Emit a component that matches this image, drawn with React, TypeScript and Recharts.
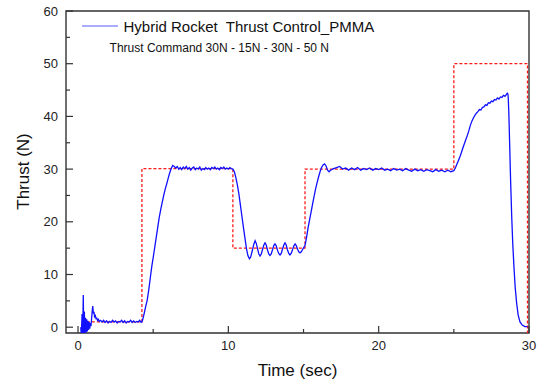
import { LineChart, Line, XAxis, YAxis, ReferenceArea } from 'recharts';

type Pt = { t: number; v: number };

// thrust command steps (N)
const commandSteps: [number, number][] = [
  [0.25, 1.0], [4.25, 1.0], [4.25, 30.1], [10.3, 30.1], [10.3, 15.0],
  [15.1, 15.0], [15.1, 30.0], [25.0, 30.0], [25.0, 50.0], [29.9, 50.0], [29.9, -1.1]
];

const ignition: [number, number][] = [
  [0.18, 0.0], [0.22, -1.5], [0.27, 2.5], [0.31, -1.5], [0.35, 6.1], [0.38, -1.5],
  [0.42, 3.0], [0.46, -1.2], [0.5, 1.8], [0.54, -1.0], [0.58, 1.5], [0.62, -0.8],
  [0.66, 1.2], [0.7, -0.5], [0.74, 1.0], [0.78, -0.3], [0.82, 0.8], [0.86, 0.2],
  [0.9, 1.5], [0.95, 3.2], [0.98, 4.0], [1.02, 2.6], [1.06, 2.9], [1.1, 2.0],
  [1.15, 2.2], [1.2, 1.6], [1.25, 1.7], [1.3, 1.3], [1.35, 1.5], [1.42, 1.1], [1.5, 1.3]
];

const idle: [number, number][] = [
  [1.6, 1.0], [1.7, 1.3], [1.8, 0.9], [1.9, 1.2], [2.0, 0.8], [2.1, 1.1], [2.2, 0.9],
  [2.3, 1.3], [2.4, 1.0], [2.5, 1.2], [2.6, 0.8], [2.7, 1.1], [2.8, 1.0], [2.9, 1.3],
  [3.0, 0.9], [3.1, 1.2], [3.2, 0.8], [3.3, 1.1], [3.4, 1.0], [3.5, 1.3], [3.6, 0.9],
  [3.7, 1.2], [3.8, 0.9], [3.9, 1.1], [4.0, 1.0], [4.1, 1.3], [4.2, 0.9], [4.25, 1.0]
];

const firstRise: [number, number][] = [
  [4.3, 1.4], [4.4, 2.6], [4.5, 3.9], [4.6, 5.1], [4.7, 7.0], [4.8, 9.2], [4.9, 11.4],
  [5.0, 13.2], [5.1, 15.1], [5.2, 17.0], [5.3, 18.9], [5.4, 20.8], [5.5, 22.3],
  [5.6, 23.7], [5.7, 25.0], [5.8, 26.2], [5.9, 27.2], [6.0, 28.3], [6.1, 29.3],
  [6.2, 30.1], [6.3, 30.7], [6.4, 30.5]
];

const firstHold: [number, number][] = [
  [6.5, 30.2], [6.6, 30.5], [6.7, 30.0], [6.8, 30.3], [6.9, 29.9], [7.0, 30.4], [7.1, 30.1],
  [7.2, 30.5], [7.3, 30.0], [7.4, 30.3], [7.5, 29.8], [7.6, 30.2], [7.7, 30.4], [7.8, 29.9],
  [7.9, 30.2], [8.0, 30.0], [8.1, 30.4], [8.2, 29.8], [8.3, 30.1], [8.4, 29.9], [8.5, 30.3],
  [8.6, 30.0], [8.7, 30.2], [8.8, 29.9], [8.9, 30.3], [9.0, 30.1], [9.1, 30.4], [9.2, 30.0],
  [9.3, 30.2], [9.4, 29.9], [9.5, 30.3], [9.6, 30.1], [9.7, 30.4], [9.8, 30.0], [9.9, 30.2],
  [10.0, 30.0], [10.1, 30.3], [10.2, 30.1], [10.3, 30.0]
];

const throttleDown: [number, number][] = [
  [10.4, 29.5], [10.5, 28.4], [10.6, 27.0], [10.7, 25.3], [10.8, 23.2], [10.9, 21.1],
  [11.0, 19.0], [11.1, 17.0], [11.2, 15.0], [11.3, 13.6], [11.4, 13.0], [11.48, 13.3],
  [11.5, 13.5], [11.6, 14.6], [11.7, 15.8], [11.78, 16.4], [11.86, 15.9], [11.95, 14.8],
  [12.03, 13.9], [12.11, 13.5], [12.19, 13.9], [12.28, 14.8], [12.36, 15.6], [12.44, 16.0],
  [12.52, 15.6], [12.61, 14.6], [12.69, 13.9], [12.77, 13.6], [12.85, 13.9], [12.94, 14.7],
  [13.02, 15.5], [13.1, 15.8], [13.18, 15.5], [13.27, 14.6], [13.35, 14.0], [13.44, 13.7],
  [13.52, 14.0], [13.6, 14.8], [13.69, 15.6], [13.77, 16.0], [13.85, 15.6], [13.93, 14.7],
  [14.02, 14.0], [14.1, 13.7], [14.18, 14.0], [14.27, 14.7], [14.35, 15.4], [14.44, 15.8],
  [14.52, 15.5], [14.6, 14.8], [14.69, 14.3], [14.77, 14.1], [14.85, 14.3], [14.95, 14.8],
  [15.05, 15.3]
];

const secondRise: [number, number][] = [
  [15.1, 15.5], [15.2, 17.0], [15.3, 18.8], [15.4, 20.3], [15.5, 21.8], [15.6, 23.3],
  [15.7, 24.8], [15.8, 26.2], [15.9, 27.4], [16.0, 28.5], [16.1, 29.5], [16.2, 30.3],
  [16.3, 30.8], [16.4, 31.0], [16.5, 30.6], [16.6, 29.8], [16.7, 29.5], [16.8, 29.8]
];

const secondHold: [number, number][] = [
  [17.0, 30.1], [17.2, 30.3], [17.4, 30.5], [17.6, 30.0], [17.8, 30.2], [18.0, 29.8],
  [18.2, 30.2], [18.4, 29.9], [18.6, 30.3], [18.8, 29.8], [19.0, 30.1], [19.2, 29.9],
  [19.4, 30.2], [19.6, 29.8], [19.8, 30.1], [20.0, 29.9], [20.2, 30.2], [20.4, 29.8],
  [20.6, 30.0], [20.8, 29.7], [21.0, 30.1], [21.2, 29.8], [21.4, 30.0], [21.6, 29.7],
  [21.8, 30.1], [22.0, 29.8], [22.2, 29.6], [22.4, 30.0], [22.6, 29.7], [22.8, 29.9],
  [23.0, 29.6], [23.2, 29.9], [23.4, 29.7], [23.6, 29.5], [23.8, 29.9], [24.0, 29.6],
  [24.2, 29.8], [24.4, 29.5], [24.6, 29.8], [24.8, 29.5], [25.0, 29.7]
];

const boost: [number, number][] = [
  [25.1, 30.2], [25.2, 30.9], [25.3, 31.6], [25.4, 32.3], [25.5, 33.1], [25.6, 34.0],
  [25.7, 34.8], [25.8, 35.6], [25.9, 36.4], [26.0, 37.3], [26.1, 38.3], [26.2, 39.1],
  [26.3, 39.7], [26.4, 40.2], [26.5, 40.6], [26.6, 40.9], [26.7, 41.3], [26.8, 41.2],
  [26.9, 41.7], [27.0, 41.8], [27.1, 42.2], [27.2, 42.1], [27.3, 42.6], [27.4, 42.5],
  [27.5, 42.9], [27.6, 42.8], [27.7, 43.2], [27.8, 43.1], [27.9, 43.5], [28.0, 43.3],
  [28.1, 43.7], [28.2, 43.6], [28.3, 44.0], [28.4, 43.8], [28.5, 44.2], [28.55, 44.4],
  [28.6, 44.2]
];

const shutdown: [number, number][] = [
  [28.62, 43.5], [28.66, 40.5], [28.72, 34.0], [28.78, 27.5], [28.85, 21.0],
  [28.92, 15.8], [29.0, 11.4], [29.08, 7.6], [29.18, 4.5], [29.28, 2.3], [29.4, 1.0],
  [29.55, 0.4], [29.73, 0.1], [29.9, 0.1]
];

const xTicks = [0, 5, 10, 15, 20, 25, 30];
const yTicks = [0, 5, 10, 15, 20, 25, 30, 35, 40, 45, 50, 55, 60];

const toPts = (rows: [number, number][]): Pt[] => rows.map(([t, v]) => ({ t, v }));

const measured = toPts([
  ...ignition, ...idle, ...firstRise, ...firstHold, ...throttleDown,
  ...secondRise, ...secondHold, ...boost, ...shutdown
]);
const command = toPts(commandSteps);

const FONT = '"Liberation Sans", Arial, sans-serif';
const AXIS = '#333';
const GAP = 8;

function XTick(props: any) {
  const { x, y, payload } = props;
  const major = payload.value % 10 === 0;
  const base = y - GAP;
  return (
    <g>
      <line x1={x} x2={x} y1={base} y2={base - (major ? 7 : 4)} stroke={AXIS} strokeWidth={1.2} />
      {major && (
        <text x={x} y={y} dy="0.71em" textAnchor="middle" fontSize={13} fontFamily={FONT} fill="#222">
          {payload.value}
        </text>
      )}
    </g>
  );
}

function YTick(props: any) {
  const { x, y, payload } = props;
  const major = payload.value % 10 === 0;
  const base = x + GAP;
  return (
    <g>
      <line x1={base} x2={base + (major ? 7 : 4)} y1={y} y2={y} stroke={AXIS} strokeWidth={1.2} />
      {major && (
        <text x={x} y={y} dy="0.36em" textAnchor="end" fontSize={13} fontFamily={FONT} fill="#222">
          {payload.value}
        </text>
      )}
    </g>
  );
}

export default function App() {
  return (
    <div style={{ position: 'absolute', left: 0, top: 0, width: 545, height: 382, background: '#fff' }}>
      <LineChart width={545} height={382} margin={{ top: 11, right: 16, bottom: 19, left: 8 }}>
        <XAxis
          type="number"
          dataKey="t"
          domain={[-0.8, 30]}
          allowDataOverflow
          ticks={xTicks}
          tickSize={0}
          tickMargin={GAP}
          axisLine={false}
          tick={<XTick />}
          height={30}
        />
        <YAxis
          type="number"
          dataKey="v"
          domain={[-1.1, 60]}
          allowDataOverflow
          ticks={yTicks}
          tickSize={0}
          tickMargin={GAP}
          axisLine={false}
          tick={<YTick />}
          width={58}
        />
        <Line
          data={command}
          dataKey="v"
          type="linear"
          stroke="#ff1a1a"
          strokeWidth={1.3}
          strokeDasharray="3 2"
          dot={false}
          activeDot={false}
          isAnimationActive={false}
        />
        <Line
          data={measured}
          dataKey="v"
          type="linear"
          stroke="#1010ff"
          strokeWidth={1.3}
          dot={false}
          activeDot={false}
          isAnimationActive={false}
        />
        <ReferenceArea x1={-0.8} x2={30} y1={-1.1} y2={60} fill="none" stroke={AXIS} strokeWidth={1.4} />
      </LineChart>
      <svg width={545} height={382} style={{ position: 'absolute', left: 0, top: 0, pointerEvents: 'none' }}>
        <line x1={82} x2={118} y1={26} y2={26} stroke="#5a5aff" strokeWidth={1.2} />
        <text x={123.5} y={32} fontSize={15} fontFamily={FONT} fill="#111" style={{ whiteSpace: 'pre' }}>
          {'Hybrid Rocket  Thrust Control_PMMA'}
        </text>
        <text x={109.6} y={52} fontSize={12} fontFamily={FONT} fill="#111" style={{ whiteSpace: 'pre' }}>
          Thrust Command 30N - 15N - 30N - 50 N
        </text>
        <text x={297.5} y={376} fontSize={17} textAnchor="middle" fontFamily={FONT} fill="#111">
          Time (sec)
        </text>
        <text
          x={23}
          y={171.5}
          fontSize={17}
          textAnchor="middle"
          dominantBaseline="central"
          fontFamily={FONT}
          fill="#111"
          transform="rotate(-90 23 171.5)"
        >
          Thrust (N)
        </text>
      </svg>
    </div>
  );
}
